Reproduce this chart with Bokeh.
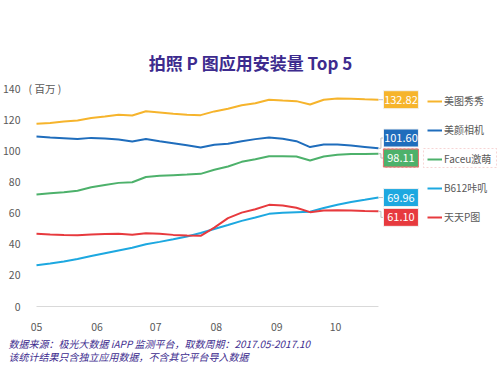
from bokeh.plotting import figure
from bokeh.models import (Label, FixedTicker, Legend, LegendItem, BoxAnnotation, ColumnDataSource, Title)
from bokeh.core.properties import value
from bokeh.embed import file_html
from bokeh.resources import INLINE

# ---------------- data ----------------
months = ["05", "06", "07", "08", "09", "10"]
month_days = [0, 31, 61, 92, 123, 153]          # day offsets of month starts (from May 1)
week_day = list(range(0, 176, 7))               # weekly observations (day offsets)

names = ["美图秀秀", "美颜相机", "Faceu激萌", "B612咔叽", "天天P图"]
meitu_xiuxiu = [117.3, 117.8, 118.8, 119.5, 121.0, 122.0, 123.2, 122.7, 125.4, 124.6, 123.8, 123.2, 122.9,
                125.3, 127.0, 129.2, 130.5, 132.8, 132.3, 131.9, 129.7, 132.8, 133.6, 133.4, 133.1, 132.82]
meiyan_xiangji = [109.2, 108.6, 108.1, 107.6, 108.3, 107.9, 107.3, 106.0, 107.6, 106.2, 104.9, 103.6, 102.1,
                  103.9, 104.5, 106.2, 107.5, 108.6, 107.7, 106.2, 102.4, 104.0, 104.0, 103.4, 102.5, 101.60]
faceu = [71.9, 72.7, 73.4, 74.4, 76.6, 78.0, 79.4, 79.8, 83.2, 83.9, 84.3, 84.7, 85.2,
         87.8, 89.9, 92.9, 94.6, 96.5, 96.5, 96.3, 93.8, 96.3, 97.4, 97.9, 98.0, 98.11]
b612 = [26.5, 27.6, 28.9, 30.5, 32.4, 34.2, 36.0, 37.7, 40.0, 41.5, 43.2, 45.0, 47.2,
        49.8, 52.3, 55.0, 57.2, 59.5, 60.2, 60.6, 60.8, 63.3, 65.4, 67.1, 68.5, 69.96]
tiantian_ptu = [46.7, 46.3, 46.0, 45.8, 46.3, 46.6, 46.7, 46.1, 47.1, 46.7, 46.0, 45.6, 45.4,
                50.7, 56.8, 60.3, 62.5, 65.3, 64.9, 63.4, 60.6, 61.7, 61.8, 61.6, 61.3, 61.10]
series = [meitu_xiuxiu, meiyan_xiangji, faceu, b612, tiantian_ptu]
y_ticks = [0, 20, 40, 60, 80, 100, 120, 140]

title_text = "拍照 P 图应用安装量 Top 5"
unit_text = "( 百万 )"
note1 = "数据来源：极光大数据 iAPP 监测平台，取数周期：2017.05-2017.10"
note2 = "该统计结果只含独立应用数据，不含其它平台导入数据"

# ---------------- style / layout ----------------
colors = ["#F6B42C", "#1F6DBC", "#4DB16B", "#1DA8E0", "#E73A3E"]
label_nudge_px = [0, -10.3, 4.3, 0, 6.0]      # vertical nudges of end-value boxes
FONT = "Noto Sans CJK SC"
PURPLE = "#3D2B8E"
GRAY = "#595959"

W, H = 500, 375
FL, FB = 27, 310                 # frame left / bottom (canvas px), frame top = 0, right = W
X0PX, Y0PX = 36, 306             # pixel of day 0 / value 0
SX, SY = 1.954, 1.557            # px per day, px per unit

def dx(px):
    return (px - X0PX) / SX

def dy(py):
    return (Y0PX - py) / SY

p = figure(width=W, height=H, output_backend="svg", toolbar_location=None,
           x_range=(dx(FL), dx(W)), y_range=(dy(FB), dy(0)),
           min_border_left=FL, min_border_right=0, min_border_top=0, min_border_bottom=H - FB)
p.outline_line_color = None
p.xgrid.grid_line_color = None
p.ygrid.grid_line_color = None
p.background_fill_color = "white"

# axes
p.yaxis.ticker = FixedTicker(ticks=y_ticks)
p.yaxis.axis_line_color = None
p.yaxis.major_tick_line_color = None
p.yaxis.minor_tick_line_color = None
p.yaxis.major_label_standoff = 1
p.yaxis.major_label_text_font = FONT
p.yaxis.major_label_text_font_size = "10.5px"
p.yaxis.major_label_text_color = GRAY

p.xaxis.ticker = FixedTicker(ticks=month_days)
p.xaxis.major_label_overrides = {d: m for d, m in zip(month_days, months)}
p.xaxis.axis_line_color = None
p.xaxis.major_tick_line_color = None
p.xaxis.minor_tick_line_color = None
p.xaxis.major_label_standoff = 6
p.xaxis.major_label_text_font = FONT
p.xaxis.major_label_text_font_size = "10.5px"
p.xaxis.major_label_text_color = GRAY

# baseline at 0
p.line(x=[week_day[0], week_day[-1]], y=[0, 0], line_color="#D9D9D9", line_width=1)

renderers = []
for vals, c in zip(series, colors):
    r = p.line(x=week_day, y=vals, line_color=c, line_width=2)
    renderers.append(r)

# end value boxes with leader lines
x_end = week_day[-1]
box_cx = x_end + 22.5 / SX
box_left = x_end + 5 / SX
bend_x = x_end + 2.5 / SX
last_vals = [s[-1] for s in series]
box_y = [v - n / SY for v, n in zip(last_vals, label_nudge_px)]

p.multi_line(xs=[[x_end, bend_x, bend_x, box_left] for _ in last_vals],
             ys=[[v, v, by, by] for v, by in zip(last_vals, box_y)],
             line_color="#BFBFBF", line_width=1)

src = ColumnDataSource(dict(x=[box_cx] * 5, y=box_y, c=colors,
                            t=["%.2f" % v for v in last_vals],
                            lc=["#F2F2F2", "#F2F2F2", "#E57373", "#F2F2F2", "#F2F2F2"]))
p.rect(x="x", y="y", width=35, height=18, width_units="screen", height_units="screen",
       fill_color="c", line_color="lc", line_width=1, source=src)
p.rect(x=[box_cx], y=[box_y[2]], width=35, height=18, width_units="screen", height_units="screen",
       fill_alpha=0, line_color="#E57373", line_dash="2 2", line_width=1)
p.text(x="x", y="y", text="t", source=src, text_color="white", text_align="center",
       text_baseline="middle", text_font=value(FONT), text_font_size="11px")

# legend
legend = Legend(items=[LegendItem(label=n, renderers=[r]) for n, r in zip(names, renderers)],
                location=(427 - FL, FB - 226.7), orientation="vertical",
                glyph_width=15, glyph_height=20, label_height=20, spacing=9,
                padding=0, margin=0, label_standoff=2,
                border_line_color=None, background_fill_alpha=0,
                label_text_font=FONT, label_text_font_size="10px", label_text_color=GRAY)
p.add_layout(legend)

p.add_layout(BoxAnnotation(left=dx(423), right=dx(496), top=dy(148), bottom=dy(167),
                           fill_alpha=0, line_color="#E57373", line_dash="2 2", line_width=1))

# texts
p.add_layout(Label(x=dx(250), y=dy(62), text=title_text, text_align="center", text_baseline="middle",
                   text_font=FONT, text_font_size="17px", text_font_style="bold", text_color=PURPLE))
p.add_layout(Label(x=dx(28), y=y_ticks[-1], text=unit_text, text_align="left", text_baseline="middle",
                   text_font=FONT, text_font_size="10.5px", text_color=GRAY))

for txt, so in [(note1, 0), (note2, -7)]:
    p.add_layout(Title(text=txt, align="left", offset=8 - FL, standoff=so,
                       text_font=FONT, text_font_size="10px", text_font_style="italic",
                       text_color=PURPLE), "below")

open("out.html", "w").write(file_html(p, INLINE))
